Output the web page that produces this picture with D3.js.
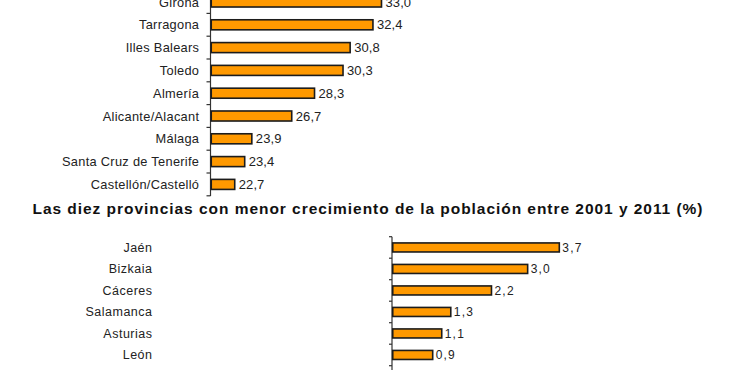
<!DOCTYPE html>
<html>
<head>
<meta charset="utf-8">
<script src="https://cdn.jsdelivr.net/npm/d3@7"></script>
<style>
  html, body { margin: 0; padding: 0; background: #fff; }
  svg { display: block; font-family: "Liberation Sans", Arial, sans-serif; }
</style>
</head>
<body>
<div id="chart"></div>
<script>
'use strict';

// Top chart (mayor crecimiento) - first rows are cut off by the frame
var topNames = ['Girona', 'Tarragona', 'Illes Balears', 'Toledo', 'Almería',
  'Alicante/Alacant', 'Málaga', 'Santa Cruz de Tenerife', 'Castellón/Castelló'];
var topValues = [33.0, 32.4, 30.8, 30.3, 28.3, 26.7, 23.9, 23.4, 22.7];

// Bottom chart (menor crecimiento)
var bottomTitle = 'Las diez provincias con menor crecimiento de la población entre 2001 y 2011 (%)';
var bottomNames = ['Jaén', 'Bizkaia', 'Cáceres', 'Salamanca', 'Asturias', 'León'];
var bottomValues = [3.7, 3.0, 2.2, 1.3, 1.1, 0.9];

var W = 730, H = 370;
var BAR = '#ff9900', EDGE = '#1c1c1c', INK = '#222';

function fmt(v) { return v.toFixed(1).replace('.', ','); }

var svg = d3.select('#chart').append('svg')
  .attr('width', W)
  .attr('height', H);

function drawPanel(opt) {
  var rows = opt.names.map(function (n, i) { return { name: n, value: opt.values[i] }; });

  var y = d3.scaleBand()
    .domain(opt.names)
    .range(opt.yRange)
    .paddingInner(opt.pad)
    .paddingOuter(opt.pad / 2);

  var x = d3.scaleLinear()
    .domain(opt.xDomain)
    .range(opt.xRange);

  var g = svg.append('g');

  // axis line + ticks between categories
  var x0 = opt.xRange[0];
  g.append('line')
    .attr('x1', x0).attr('x2', x0)
    .attr('y1', opt.yRange[0]).attr('y2', opt.axisEnd)
    .attr('stroke', '#333').attr('stroke-width', 1.2);

  var ticks = d3.range(opt.names.length + 1).map(function (i) { return opt.yRange[0] + i * y.step(); });
  g.selectAll('line.tick')
    .data(ticks)
    .join('line')
    .attr('class', 'tick')
    .attr('x1', x0 - opt.tick).attr('x2', x0)
    .attr('y1', function (d) { return d; })
    .attr('y2', function (d) { return d; })
    .attr('stroke', '#333').attr('stroke-width', 1.2);

  // bars
  g.selectAll('rect.bar')
    .data(rows)
    .join('rect')
    .attr('class', 'bar')
    .attr('x', x0 + 0.75)
    .attr('y', function (d) { return y(d.name); })
    .attr('width', function (d) { return x(d.value) - x0 - 0.75; })
    .attr('height', y.bandwidth())
    .attr('fill', BAR)
    .attr('stroke', EDGE)
    .attr('stroke-width', 1.6);

  // category labels
  g.selectAll('text.cat')
    .data(rows)
    .join('text')
    .attr('class', 'cat')
    .attr('x', opt.labelX + opt.catSpacing)
    .attr('y', function (d) { return y(d.name) + y.bandwidth() / 2; })
    .attr('dy', '0.36em')
    .attr('text-anchor', 'end')
    .style('font-size', opt.catSize + 'px')
    .style('letter-spacing', opt.catSpacing + 'px')
    .attr('fill', INK)
    .text(function (d) { return d.name; });

  // value labels
  g.selectAll('text.val')
    .data(rows)
    .join('text')
    .attr('class', 'val')
    .attr('x', function (d) { return x(d.value) + opt.valGap; })
    .attr('y', function (d) { return y(d.name) + y.bandwidth() / 2; })
    .attr('dy', '0.36em')
    .style('font-size', opt.valSize + 'px')
    .style('letter-spacing', opt.valSpacing + 'px')
    .attr('fill', INK)
    .text(function (d) { return fmt(d.value); });
}

drawPanel({
  names: topNames, values: topValues,
  yRange: [195.8 - topNames.length * 22.8, 195.8], axisEnd: 196,
  pad: 0.56,
  xDomain: [21, 33], xRange: [210.5, 381.5],
  tick: 4,
  labelX: 199, catSize: 12.8, catSpacing: 0.3,
  valGap: 4, valSize: 13, valSpacing: 0.1
});

svg.append('text')
  .attr('x', 367.5)
  .attr('y', 213.5)
  .attr('text-anchor', 'middle')
  .attr('textLength', 670)
  .attr('lengthAdjust', 'spacing')
  .style('font-size', '15.5px')
  .style('font-weight', 'bold')
  .attr('fill', '#111')
  .text(bottomTitle);

drawPanel({
  names: bottomNames, values: bottomValues,
  yRange: [236.7, 236.7 + bottomNames.length * 21.5], axisEnd: H + 2,
  pad: 0.58,
  xDomain: [0, 3.7], xRange: [392, 559.3],
  tick: 3,
  labelX: 152, catSize: 12.5, catSpacing: 0.5,
  valGap: 3, valSize: 12, valSpacing: 1.2
});
</script>
</body>
</html>
